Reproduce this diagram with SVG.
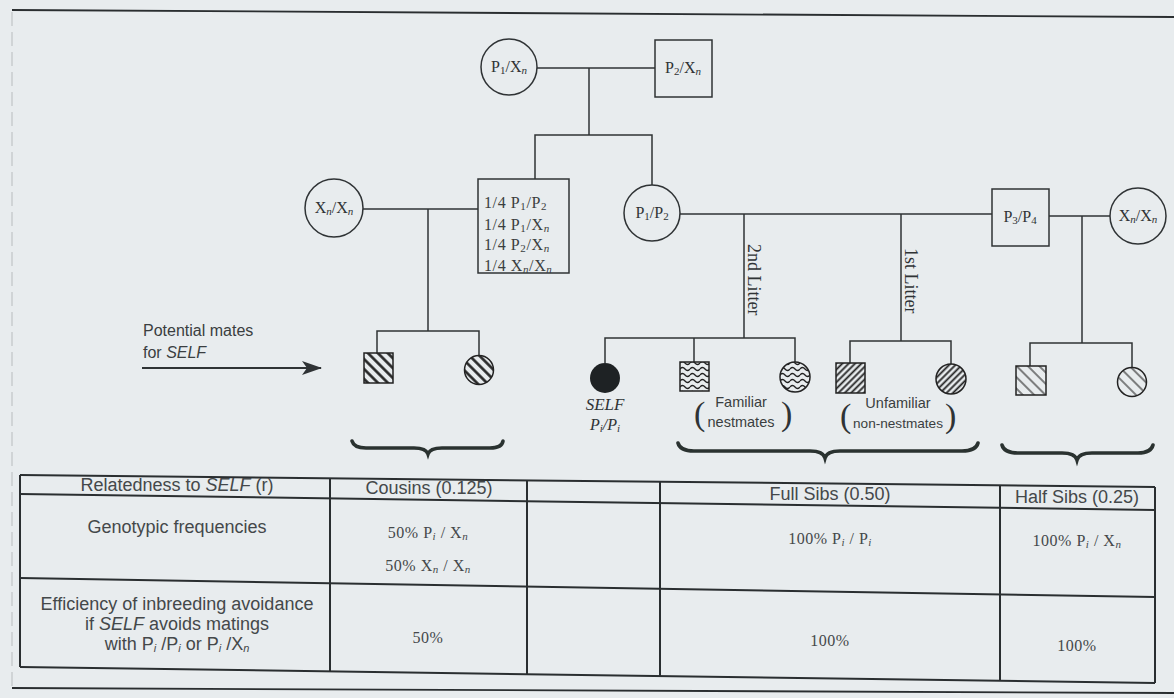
<svg xmlns="http://www.w3.org/2000/svg" width="1174" height="698" viewBox="0 0 1174 698">
<style>
.ln{stroke:#2f3335;stroke-width:1.5;fill:none}
.nd{stroke:#2f3335;stroke-width:1.5;fill:none}
.tb{stroke:#2a2e30;stroke-width:2;fill:none}
.br{stroke:#2a3230;stroke-width:3.6;fill:none;stroke-linecap:round}
.lb{font-family:"Liberation Serif",serif;font-size:16px;fill:#2f3335}
.bx{font-family:"Liberation Serif",serif;font-size:16px;fill:#3a3e40;letter-spacing:0.6px}
.sb{font-size:11px}
.sn{font-family:"Liberation Sans",sans-serif;font-size:16px;fill:#3a3e40}
.tt{font-family:"Liberation Sans",sans-serif;font-size:18px;fill:#44484a;text-anchor:middle}
.ts{font-family:"Liberation Serif",serif;font-size:16px;fill:#44484a;text-anchor:middle;letter-spacing:0.5px}
.it{font-style:italic}
.pr{font-family:"Liberation Serif",serif;font-size:34px;fill:#2f3335}
.vt{font-family:"Liberation Serif",serif;font-size:18px;fill:#2f3335}
.pn{font-family:"Liberation Sans",sans-serif;font-size:14.5px;fill:#3a3e40;text-anchor:middle}
</style>
<defs>
<pattern id="hThick" width="7" height="7" patternUnits="userSpaceOnUse" patternTransform="rotate(-45)"><line x1="3.5" y1="0" x2="3.5" y2="7" stroke="#222" stroke-width="2.6"/></pattern>
<pattern id="hThin" width="8" height="8" patternUnits="userSpaceOnUse" patternTransform="rotate(-45)"><line x1="4" y1="0" x2="4" y2="8" stroke="#333" stroke-width="1.2"/></pattern>
<pattern id="hDense" width="4.5" height="4.5" patternUnits="userSpaceOnUse" patternTransform="rotate(45)"><line x1="2.2" y1="0" x2="2.2" y2="4.5" stroke="#222" stroke-width="1.8"/></pattern>
<pattern id="wavy" width="10" height="6" patternUnits="userSpaceOnUse"><path d="M0,3 Q2.5,0 5,3 T10,3" stroke="#222" stroke-width="1.3" fill="none"/></pattern>
<marker id="ah" viewBox="0 0 20 14" refX="19" refY="7" markerWidth="20" markerHeight="14" markerUnits="userSpaceOnUse" orient="auto"><path d="M0,0 L20,7 L0,14 L5,7 Z" fill="#2f3335"/></marker>
</defs>
<rect width="1174" height="698" fill="#e8ecee"/>
<line x1="12" y1="10" x2="1174" y2="17" stroke="#2a2e30" stroke-width="1.8"/>
<line x1="12" y1="12" x2="12" y2="688" stroke="#b8bcbe" stroke-width="1" stroke-dasharray="14 6"/>
<line x1="12" y1="688" x2="1174" y2="693" stroke="#2a2e30" stroke-width="1.8"/>

<g id="connectors">
<line class="ln" x1="537" y1="68" x2="655" y2="68"/>
<line class="ln" x1="589" y1="68" x2="589" y2="135"/>
<polyline class="ln" points="535,179 535,135 652,135 652,185"/>
<line class="ln" x1="363" y1="209" x2="478" y2="209"/>
<line class="ln" x1="428" y1="209" x2="428" y2="331"/>
<polyline class="ln" points="377,353 377,331 479,331 479,355"/>
<line class="ln" x1="680" y1="214" x2="992" y2="214"/>
<line class="ln" x1="744" y1="214" x2="744" y2="338"/>
<polyline class="ln" points="605,363 605,338 795,338 795,362"/>
<line class="ln" x1="694" y1="338" x2="694" y2="362"/>
<line class="ln" x1="901" y1="214" x2="901" y2="341"/>
<polyline class="ln" points="850,363 850,341 951,341 951,364"/>
<line class="ln" x1="1049" y1="216" x2="1110" y2="216"/>
<line class="ln" x1="1082" y1="216" x2="1082" y2="343"/>
<polyline class="ln" points="1030,366 1030,343 1132,343 1132,367"/>
<line x1="142" y1="368" x2="321" y2="368" stroke="#2f3335" stroke-width="2" marker-end="url(#ah)"/>
<text class="vt" transform="translate(748,244) rotate(90)">2nd Litter</text>
<text class="vt" transform="translate(905,248) rotate(90)">1st Litter</text>
</g>

<g id="n_p1xn"><circle class="nd" cx="509" cy="67" r="28"/><text class="lb" x="509" y="72" text-anchor="middle">P<tspan class="sb" dy="2">1</tspan><tspan dy="-2">/X</tspan><tspan class="sb it" dy="2">n</tspan></text></g>
<g id="n_p2xn"><rect class="nd" x="655" y="40" width="57" height="57"/><text class="lb" x="683" y="73" text-anchor="middle">P<tspan class="sb" dy="2">2</tspan><tspan dy="-2">/X</tspan><tspan class="sb it" dy="2">n</tspan></text></g>
<g id="n_xnxn_l"><circle class="nd" cx="334" cy="208" r="29"/><text class="lb" x="334" y="213" text-anchor="middle">X<tspan class="sb it" dy="2">n</tspan><tspan dy="-2">/X</tspan><tspan class="sb it" dy="2">n</tspan></text></g>
<g id="n_box"><rect class="nd" x="478" y="179" width="91" height="94"/>
<text class="bx" x="484" y="208">1/4 P<tspan class="sb" dy="2">1</tspan><tspan dy="-2">/P</tspan><tspan class="sb" dy="2">2</tspan></text>
<text class="bx" x="484" y="230">1/4 P<tspan class="sb" dy="2">1</tspan><tspan dy="-2">/X</tspan><tspan class="sb it" dy="2">n</tspan></text>
<text class="bx" x="484" y="250">1/4 P<tspan class="sb" dy="2">2</tspan><tspan dy="-2">/X</tspan><tspan class="sb it" dy="2">n</tspan></text>
<text class="bx" x="484" y="271">1/4 X<tspan class="sb it" dy="2">n</tspan><tspan dy="-2">/X</tspan><tspan class="sb it" dy="2">n</tspan></text></g>
<g id="n_p1p2"><circle class="nd" cx="652" cy="213" r="28"/><text class="lb" x="652" y="218" text-anchor="middle">P<tspan class="sb" dy="2">1</tspan><tspan dy="-2">/P</tspan><tspan class="sb" dy="2">2</tspan></text></g>
<g id="n_p3p4"><rect class="nd" x="992" y="189" width="57" height="57"/><text class="lb" x="1020" y="222" text-anchor="middle">P<tspan class="sb" dy="2">3</tspan><tspan dy="-2">/P</tspan><tspan class="sb" dy="2">4</tspan></text></g>
<g id="n_xnxn_r"><circle class="nd" cx="1138" cy="216" r="28"/><text class="lb" x="1138" y="221" text-anchor="middle">X<tspan class="sb it" dy="2">n</tspan><tspan dy="-2">/X</tspan><tspan class="sb it" dy="2">n</tspan></text></g>

<g id="n_potential"><text class="sn" x="143" y="336">Potential mates</text><text class="sn" x="143" y="358">for  <tspan class="it">SELF</tspan></text></g>

<g id="n_cousin_m"><rect x="364" y="353" width="29" height="30" fill="url(#hThick)" stroke="#222" stroke-width="1.5"/></g>
<g id="n_cousin_f"><circle cx="479" cy="370" r="14.5" fill="url(#hThick)" stroke="#222" stroke-width="1.5"/></g>
<g id="n_self"><circle cx="605" cy="378" r="15" fill="#1e2224"/><text class="lb it" x="605" y="410" text-anchor="middle" style="font-size:17px">SELF</text><text class="lb it" x="605" y="430" text-anchor="middle">P<tspan class="sb" dy="2">i</tspan><tspan dy="-2">/P</tspan><tspan class="sb" dy="2">i</tspan></text></g>
<g id="n_fam_m"><rect x="680" y="362" width="29" height="29" fill="url(#wavy)" stroke="#222" stroke-width="1.5"/></g>
<g id="n_fam_f"><circle cx="795" cy="377" r="15" fill="url(#wavy)" stroke="#222" stroke-width="1.5"/></g>
<g id="n_unf_m"><rect x="836" y="363" width="29" height="30" fill="url(#hDense)" stroke="#222" stroke-width="1.5"/></g>
<g id="n_unf_f"><circle cx="951" cy="379" r="15" fill="url(#hDense)" stroke="#222" stroke-width="1.5"/></g>
<g id="n_half_m"><rect x="1016" y="366" width="30" height="29" fill="url(#hThin)" stroke="#222" stroke-width="1.5"/></g>
<g id="n_half_f"><circle cx="1132" cy="382" r="14.5" fill="url(#hThin)" stroke="#222" stroke-width="1.5"/></g>

<g id="n_familiar"><text class="pr" x="694" y="425">(</text><text class="pr" x="781" y="425">)</text>
<text class="pn" x="741" y="407">Familiar</text><text class="pn" x="741" y="427">nestmates</text></g>
<g id="n_unfamiliar"><text class="pr" x="840" y="427">(</text><text class="pr" x="945" y="427">)</text>
<text class="pn" x="898" y="408">Unfamiliar</text><text class="pn" x="898" y="428" style="font-size:13.6px">non-nestmates</text></g>

<g id="braces">
<path class="br" d="M352,441 Q354,448 366,448 L414,448 Q426,448 428,454 Q430,448 442,448 L490,448 Q502,448 503,441"/>
<path class="br" d="M678,443 Q680,451 694,451 L810,451 Q823,451 825,458 Q827,451 840,451 L962,451 Q976,451 978,443"/>
<path class="br" d="M1002,445 Q1004,453 1018,453 L1062,453 Q1075,453 1077,460 Q1079,453 1092,453 L1138,453 Q1151,453 1153,445"/>
</g>

<g id="table">
<line class="tb" x1="20" y1="475" x2="1155" y2="487"/>
<line class="tb" x1="20" y1="494" x2="1155" y2="510"/>
<line class="tb" x1="20" y1="578" x2="1155" y2="597"/>
<line class="tb" x1="20" y1="667" x2="1155" y2="683"/>
<line class="tb" x1="20" y1="475" x2="20" y2="667"/>
<line class="tb" x1="330" y1="478" x2="330" y2="671"/>
<line class="tb" x1="527" y1="480" x2="527" y2="674"/>
<line class="tb" x1="660" y1="482" x2="660" y2="676"/>
<line class="tb" x1="1000" y1="485" x2="1000" y2="681"/>
<line class="tb" x1="1155" y1="487" x2="1155" y2="683"/>
<text class="tt" x="177" y="491">Relatedness to <tspan class="it">SELF</tspan> (r)</text>
<text class="tt" x="429" y="494">Cousins (0.125)</text>
<text class="tt" x="830" y="500">Full Sibs (0.50)</text>
<text class="tt" x="1077" y="503">Half Sibs (0.25)</text>
<text class="tt" x="177" y="533">Genotypic frequencies</text>
<text class="ts" x="428" y="538">50% P<tspan class="sb it" dy="2">i</tspan><tspan dy="-2"> / X</tspan><tspan class="sb it" dy="2">n</tspan></text>
<text class="ts" x="428" y="571">50% X<tspan class="sb it" dy="2">n</tspan><tspan dy="-2"> / X</tspan><tspan class="sb it" dy="2">n</tspan></text>
<text class="ts" x="830" y="544">100% P<tspan class="sb it" dy="2">i</tspan><tspan dy="-2"> / P</tspan><tspan class="sb it" dy="2">i</tspan></text>
<text class="ts" x="1077" y="546">100% P<tspan class="sb it" dy="2">i</tspan><tspan dy="-2"> / X</tspan><tspan class="sb it" dy="2">n</tspan></text>
<text class="tt" x="177" y="610">Efficiency of inbreeding avoidance</text>
<text class="tt" x="177" y="630">if <tspan class="it">SELF</tspan>  avoids matings</text>
<text class="tt" x="177" y="650">with P<tspan class="sb it" dy="2">i</tspan><tspan dy="-2"> /P</tspan><tspan class="sb it" dy="2">i</tspan><tspan dy="-2">  or P</tspan><tspan class="sb it" dy="2">i</tspan><tspan dy="-2"> /X</tspan><tspan class="sb it" dy="2">n</tspan></text>
<text class="ts" x="428" y="643">50%</text>
<text class="ts" x="830" y="646">100%</text>
<text class="ts" x="1077" y="651">100%</text>
</g>
</svg>
